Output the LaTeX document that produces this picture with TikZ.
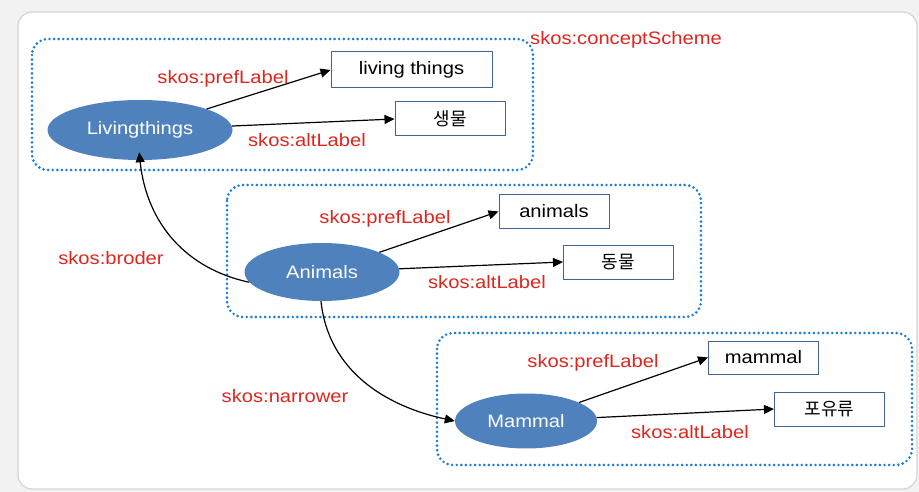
\documentclass[tikz,border=0pt]{standalone}
\usepackage{fontspec}
\setmainfont{Liberation Sans}[FakeStretch=1.12]
\newfontfamily\kor{Noto Sans CJK KR}
\usepackage{tikz}
\usetikzlibrary{shapes.geometric,arrows.meta}
\definecolor{ellblue}{RGB}{79,129,189}
\definecolor{boxblue}{RGB}{65,100,150}
\definecolor{skosred}{RGB}{222,38,30}
\definecolor{dotblue}{RGB}{28,125,210}
\definecolor{pagegray}{RGB}{242,242,242}
\definecolor{cardgray}{RGB}{212,212,212}
\tikzset{
	concept/.style={ellipse, fill=ellblue, text=white, inner sep=0pt},
	literal/.style={draw=boxblue, fill=white, line width=1pt, inner sep=0pt, minimum width=110pt, minimum height=34pt},
	rel/.style={text=skosred, inner sep=0pt},
	link/.style={-{Triangle[length=10pt,width=9pt]}, line width=1.2pt},
	scheme/.style={draw=dotblue, line width=2.9pt, dash pattern=on 0pt off 4.6pt, line cap=round, rounded corners=16pt}
}

\begin{document}
\begin{tikzpicture}[x=1pt, y=-1pt, font=\fontsize{18}{20}\selectfont]
	\fill[pagegray] (0,0) rectangle (919,492);
	\useasboundingbox (0,0) rectangle (919,492);
	\filldraw[fill=white, draw=cardgray, line width=1.2pt, rounded corners=14pt] (18,12) rectangle (917,489);

	\draw[scheme] (32,39) rectangle (533,170);
	\draw[scheme] (227,185) rectangle (701,317);
	\draw[scheme] (437,333) rectangle (912,465);

	\node[concept, minimum width=185pt, minimum height=60pt] (lt) at (140,130) {Livingthings};
	\node[concept, minimum width=155pt, minimum height=58pt] (an) at (322,272) {Animals};
	\node[concept, minimum width=142pt, minimum height=55pt] (mm) at (526,421) {Mammal};

	\node[literal, minimum width=161pt, minimum height=36pt] (ltpref) at (411.5,70) {living things};
	\node[literal] (ltalt) at (450,119) {\kor 생물};
	\node[literal, minimum height=33pt] (anpref) at (554,211.5) {animals};
	\node[literal] (analt) at (618.5,262) {\kor 동물};
	\node[literal, minimum height=33pt] (mmpref) at (763.5,357.5) {mammal};
	\node[literal] (mmalt) at (829.5,409) {\kor 포유류};

	\draw[link] (lt) -- (ltpref.west);
	\draw[link] (lt) -- (ltalt.west);
	\draw[link] (an) -- (anpref.west);
	\draw[link] (an) -- (analt.west);
	\draw[link] (mm) -- (mmpref.west);
	\draw[link] (mm) -- (mmalt.west);
	\draw[link, shorten >=-8pt] (an.188) to[out=168, in=-84] (lt.south);
	\draw[link] (an.268) to[out=-84, in=168] (mm.west);

	\node[rel] (ltprefl) at (223,79) {skos:prefLabel};
	\node[rel] (ltaltl) at (307,140) {skos:altLabel};
	\node[rel] (cs) at (626,40) {skos:conceptScheme};
	\node[rel] (anprefl) at (385,219) {skos:prefLabel};
	\node[rel] (analtl) at (487,282) {skos:altLabel};
	\node[rel] (broder) at (111,258) {skos:broder};
	\node[rel] (narrower) at (285,396) {skos:narrower};
	\node[rel] (mmprefl) at (593,363) {skos:prefLabel};
	\node[rel] (mmaltl) at (690,432) {skos:altLabel};
\end{tikzpicture}
\end{document}
